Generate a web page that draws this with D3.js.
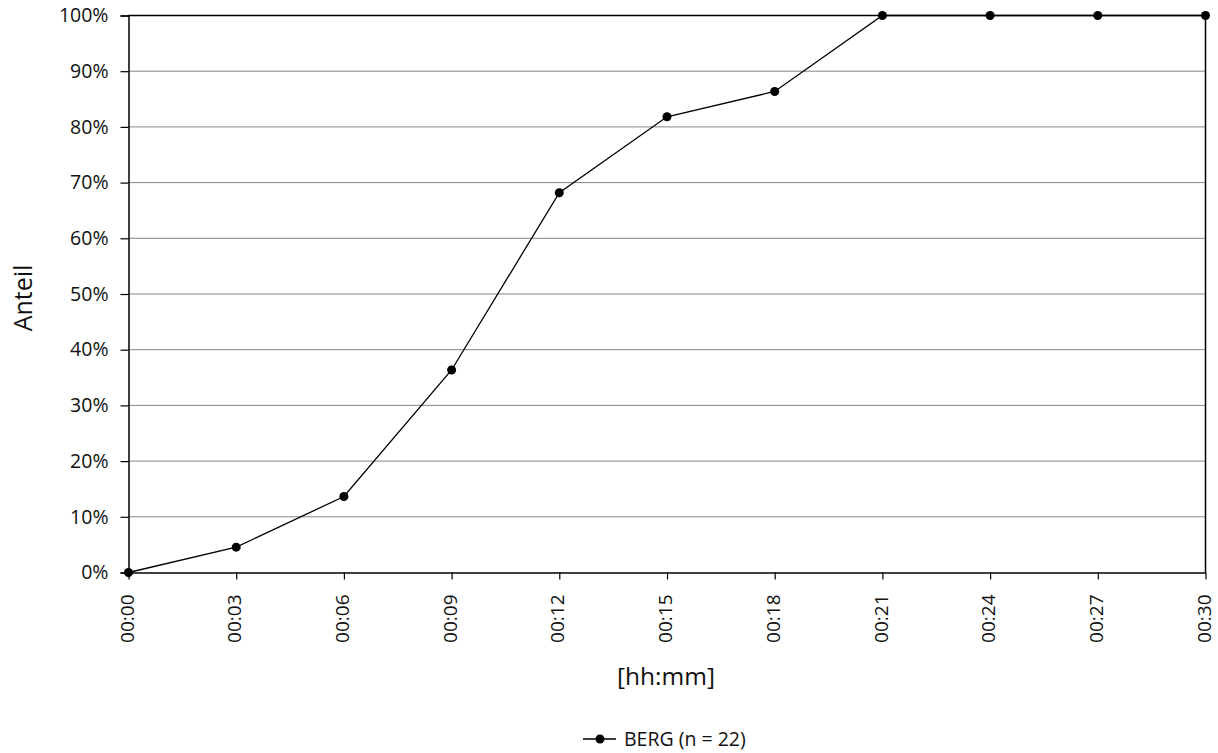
<!DOCTYPE html>
<html>
<head>
<meta charset="utf-8">
<script src="https://cdn.jsdelivr.net/npm/d3@7"></script>
<style>
  html, body { margin: 0; padding: 0; background: #fff; }
  svg { display: block; font-family: "Open Sans", "Noto Sans", sans-serif; }
</style>
</head>
<body>
<svg id="chart" width="1218" height="753"></svg>
<script>
// Data
const categories = ["00:00","00:03","00:06","00:09","00:12","00:15","00:18","00:21","00:24","00:27","00:30"];
const values = [0, 0.0455, 0.1364, 0.3636, 0.6818, 0.8182, 0.8636, 1, 1, 1, 1];
const yTicks = [0, 0.1, 0.2, 0.3, 0.4, 0.5, 0.6, 0.7, 0.8, 0.9, 1];
const seriesName = "BERG (n = 22)";
const xTitle = "[hh:mm]";
const yTitle = "Anteil";

(function () {
const svg = d3.select("#chart");
const pL = 128.5, pR = 1205.5, pT = 15.5, pB = 572.5;

const x = d3.scalePoint().domain(categories).range([pL, pR]);
const y = d3.scaleLinear().domain([0, 1]).range([pB, pT]);

// gridlines
svg.append("g")
  .selectAll("line")
  .data(yTicks.filter(d => d > 0))
  .join("line")
  .attr("x1", pL).attr("x2", pR)
  .attr("y1", d => y(d)).attr("y2", d => y(d))
  .attr("stroke", "#868686").attr("stroke-width", 1);

// plot border (top and right)
svg.append("line").attr("x1", pL).attr("x2", pR).attr("y1", pT).attr("y2", pT)
  .attr("stroke", "#000").attr("stroke-width", 1.5);
svg.append("line").attr("x1", pR).attr("x2", pR).attr("y1", pT).attr("y2", pB)
  .attr("stroke", "#000").attr("stroke-width", 1.5);

// y axis
const yAxis = svg.append("g").attr("transform", `translate(${pL},0)`)
  .call(d3.axisLeft(y).tickValues(yTicks).tickFormat(d3.format(".0%")).tickSize(8).tickPadding(12));
yAxis.select(".domain").attr("stroke", "#000").attr("stroke-width", 1.5);
yAxis.selectAll(".tick line").attr("stroke", "#000").attr("stroke-width", 1.2);
yAxis.selectAll("text").attr("font-size", 19.5).attr("fill", "#111")
  .style("font-family", "'Open Sans', sans-serif");

// x axis
const xAxis = svg.append("g").attr("transform", `translate(0,${pB})`)
  .call(d3.axisBottom(x).tickSize(7).tickSizeOuter(0));
xAxis.select(".domain").attr("stroke", "#000").attr("stroke-width", 1.5);
xAxis.selectAll(".tick line").attr("stroke", "#000").attr("stroke-width", 1.2);
xAxis.selectAll("text")
  .attr("font-size", 19).attr("fill", "#111")
  .style("font-family", "'Open Sans', sans-serif")
  .attr("text-anchor", "end")
  .attr("transform", "rotate(-90)")
  .attr("x", -22).attr("y", -2).attr("dy", "0.35em");

// line
const line = d3.line().x((d, i) => x(categories[i])).y(d => y(d));
svg.append("path").datum(values)
  .attr("fill", "none").attr("stroke", "#000").attr("stroke-width", 1.3)
  .attr("d", line);

svg.append("g").selectAll("circle").data(values).join("circle")
  .attr("cx", (d, i) => x(categories[i])).attr("cy", d => y(d)).attr("r", 4.5)
  .attr("fill", "#000");

// axis titles
svg.append("text").attr("x", 666).attr("y", 685).attr("text-anchor", "middle")
  .attr("font-size", 24.5).attr("fill", "#111").text(xTitle);
svg.append("text").attr("transform", "translate(32,298) rotate(-90)").attr("text-anchor", "middle")
  .attr("font-size", 25).attr("fill", "#111").text(yTitle);

// legend
const ly = 739;
svg.append("line").attr("x1", 583).attr("x2", 616).attr("y1", ly).attr("y2", ly)
  .attr("stroke", "#000").attr("stroke-width", 1.3);
svg.append("circle").attr("cx", 600).attr("cy", ly).attr("r", 4.5).attr("fill", "#000");
svg.append("text").attr("x", 624).attr("y", ly).attr("dy", "0.35em")
  .attr("font-size", 19.5).attr("fill", "#111").text(seriesName);
})();
</script>
</body>
</html>
